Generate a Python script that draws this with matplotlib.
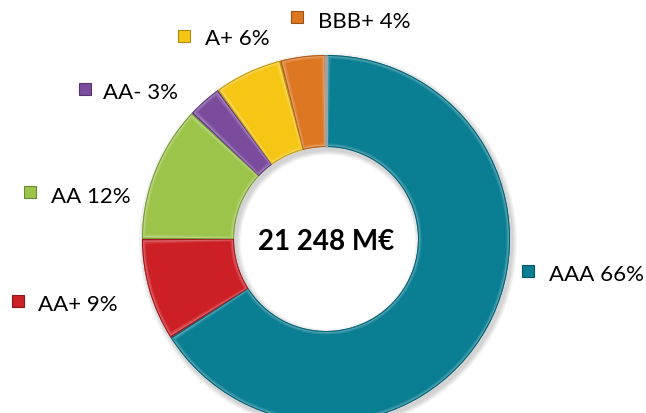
import numpy as np
import matplotlib
matplotlib.use("Agg")
import matplotlib.pyplot as plt
from matplotlib.patches import Wedge
from matplotlib.colors import to_rgb

# Portfolio breakdown by rating (percent of total)
ratings = ["AAA", "AA+", "AA", "AA-", "A+", "BBB+"]
shares = [66, 9, 12, 3, 6, 4]
colors = ["#0A7E92", "#CC1F26", "#9CC44B", "#7B4C9E", "#F6C614", "#DD7722"]
total_label = "21 248 M€"

plt.rcParams["font.family"] = ["Lato", "DejaVu Sans"]

W, H = 646, 414
fig = plt.figure(figsize=(W / 100, H / 100), dpi=100)
ax = fig.add_axes([0, 0, 1, 1])

cx, cy = 326, 174
R, r = 184, 92
ring = R - r


def mix(c, other, t):
    a = np.array(to_rgb(c))
    b = np.array(to_rgb(other))
    return tuple(a * (1 - t) + b * t)


# soft drop shadow beneath the ring
for k in range(5, 0, -1):
    ax.add_patch(Wedge((cx + 2, cy - 3), R + k, 0, 360, width=ring + 2 * k,
                       facecolor="black", edgecolor="none", alpha=0.035, zorder=1))

wedges, _ = ax.pie(shares, colors=colors, startangle=90, counterclock=False,
                   center=(cx, cy), radius=R, frame=True,
                   wedgeprops=dict(width=ring, linewidth=0, zorder=2))

# bevelled look: layered insets from a dark rim to a light ridge to the base colour
for w, c in zip(wedges, colors):
    t1, t2 = w.theta1, w.theta2
    layers = [(0.0, mix(c, "black", 0.22)),
              (1.0, mix(c, "white", 0.28)),
              (2.2, mix(c, "white", 0.12)),
              (3.6, c)]
    for d, col in layers:
        rm = r + ring / 2
        dt = np.degrees(d / rm)
        if t2 - t1 <= 2 * dt:
            continue
        ax.add_patch(Wedge((cx, cy), R - d, t1 + dt, t2 - dt, width=ring - 2 * d,
                           facecolor=col, edgecolor="none", zorder=3))

# thin grey separator where the ring starts
a0 = np.radians(wedges[0].theta2)
ax.plot([cx + r * np.cos(a0), cx + R * np.cos(a0)],
        [cy + r * np.sin(a0), cy + R * np.sin(a0)],
        color="#9AA3A7", lw=2.2, solid_capstyle="butt", zorder=4)

ax.text(cx, cy - 2, total_label, ha="center", va="center",
        fontsize=20, fontweight="bold", color="black", zorder=5)

# legend-style labels: marker centre and text baseline (pixels from top)
label_layout = {
    "AAA":  ((528, 272), (549, 281)),
    "AA+":  ((18, 302), (38, 311)),
    "AA":   ((30, 193), (51, 203)),
    "AA-":  ((85, 90), (103, 99)),
    "A+":   ((184, 37), (205, 45)),
    "BBB+": ((297, 18), (318, 28)),
}
for name, pct, c in zip(ratings, shares, colors):
    (mx, my), (tx, ty) = label_layout[name]
    ax.plot(mx, H - my, marker="s", markersize=8, color=c,
            mec=mix(c, "black", 0.3), mew=0.8, zorder=5)
    ax.text(tx, H - ty, f"{name} {pct}%", ha="left", va="baseline",
            fontsize=16, color="black", zorder=5)

ax.set_xlim(0, W)
ax.set_ylim(0, H)
ax.set_aspect("equal")
ax.axis("off")

fig.savefig("out.png", dpi=100, facecolor="white")
